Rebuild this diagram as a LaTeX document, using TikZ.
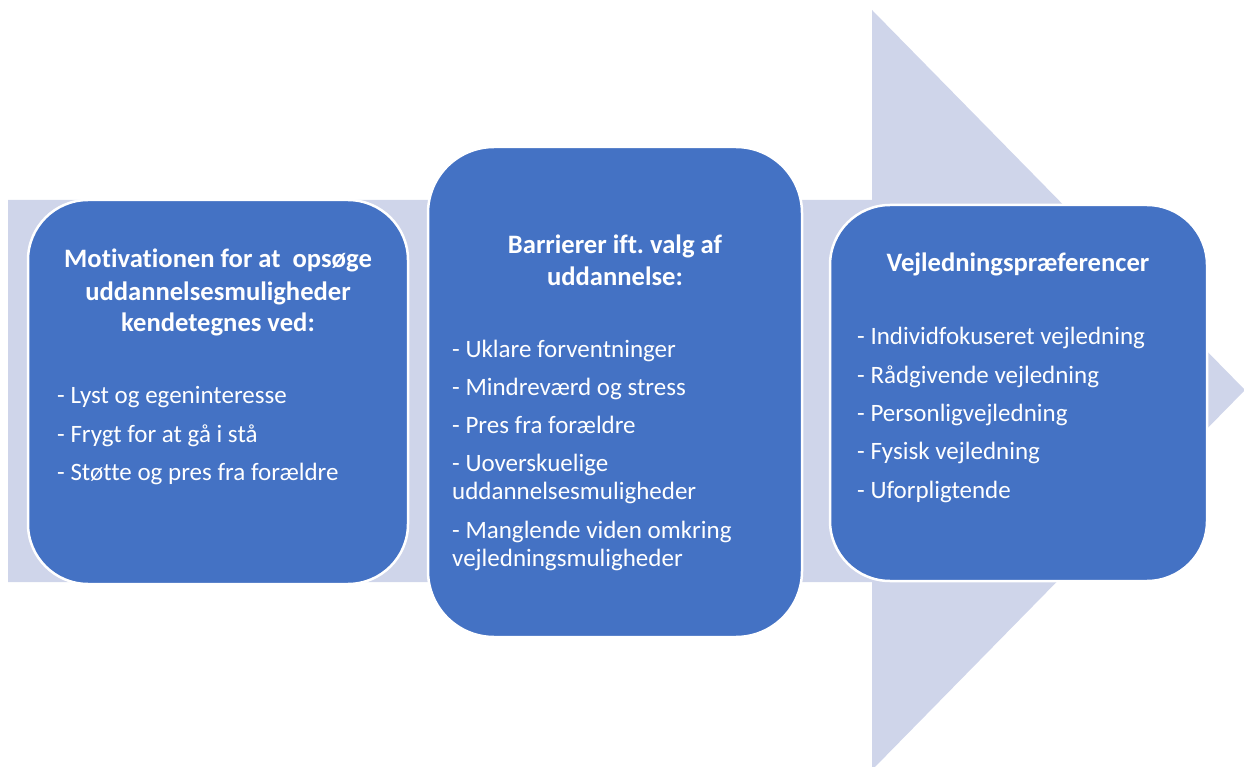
\documentclass[tikz,border=0pt]{standalone}
\usepackage{fontspec}
\setmainfont{Carlito}[Ligatures=NoCommon]
\frenchspacing
\definecolor{boxblue}{HTML}{4472C4}
\definecolor{arrowbg}{HTML}{CFD5EA}
\begin{document}
\begin{tikzpicture}[x=1pt,y=-1pt,
  box/.style={fill=boxblue, draw=white, line width=2.5pt, inner sep=0},
  ttl/.style={font=\bfseries\fontsize{26.6}{30}\selectfont, text=white, anchor=base, inner sep=0},
  itm/.style={font=\fontsize{25}{30}\selectfont, text=white, anchor=base west, inner sep=0}]
\useasboundingbox (0,0) rectangle (1244,767);
\clip (0,0) rectangle (1244,767);
% big background arrow
\fill[arrowbg] (8,200) -- (872,200) -- (872,10) -- (1245,390) -- (872,770) -- (872,582) -- (8,582) -- cycle;
% boxes
\node[box, rounded corners=60pt, minimum width=380pt, minimum height=384pt] (b1) at (218,392) {};
\node[box, rounded corners=66pt, minimum width=374pt, minimum height=490pt] (b2) at (615,392) {};
\node[box, rounded corners=60pt, minimum width=377pt, minimum height=376pt] (b3) at (1018.5,393) {};
% box 1 text
\node[ttl] (t1a) at (218,268) {Motivationen for at~~opsøge};
\node[ttl] (t1b) at (218,300) {uddannelsesmuligheder};
\node[ttl] (t1c) at (218,331) {kendetegnes ved:};
\node[itm] (i1a) at (57,403) {- Lyst og egeninteresse};
\node[itm] (i1b) at (57,442) {- Frygt for at gå i stå};
\node[itm] (i1c) at (57,480) {- Støtte og pres fra forældre};
% box 2 text
\node[ttl] (t2a) at (615,254) {Barrierer ift.\ valg af};
\node[ttl] (t2b) at (615,285) {uddannelse:};
\node[itm] (i2a) at (452,357) {- Uklare forventninger};
\node[itm] (i2b) at (452,395) {- Mindreværd og stress};
\node[itm] (i2c) at (452,433) {- Pres fra forældre};
\node[itm] (i2d) at (452,471) {- Uoverskuelige};
\node[itm] (i2e) at (452,499) {uddannelsesmuligheder};
\node[itm] (i2f) at (452,538) {- Manglende viden omkring};
\node[itm] (i2g) at (452,566) {vejledningsmuligheder};
% box 3 text
\node[ttl] (t3a) at (1018,272) {Vejledningspræferencer};
\node[itm] (i3a) at (857,344) {- Individfokuseret vejledning};
\node[itm] (i3b) at (857,383) {- Rådgivende vejledning};
\node[itm] (i3c) at (857,421) {- Personligvejledning};
\node[itm] (i3d) at (857,459) {- Fysisk vejledning};
\node[itm] (i3e) at (857,498) {- Uforpligtende};
\end{tikzpicture}
\end{document}
